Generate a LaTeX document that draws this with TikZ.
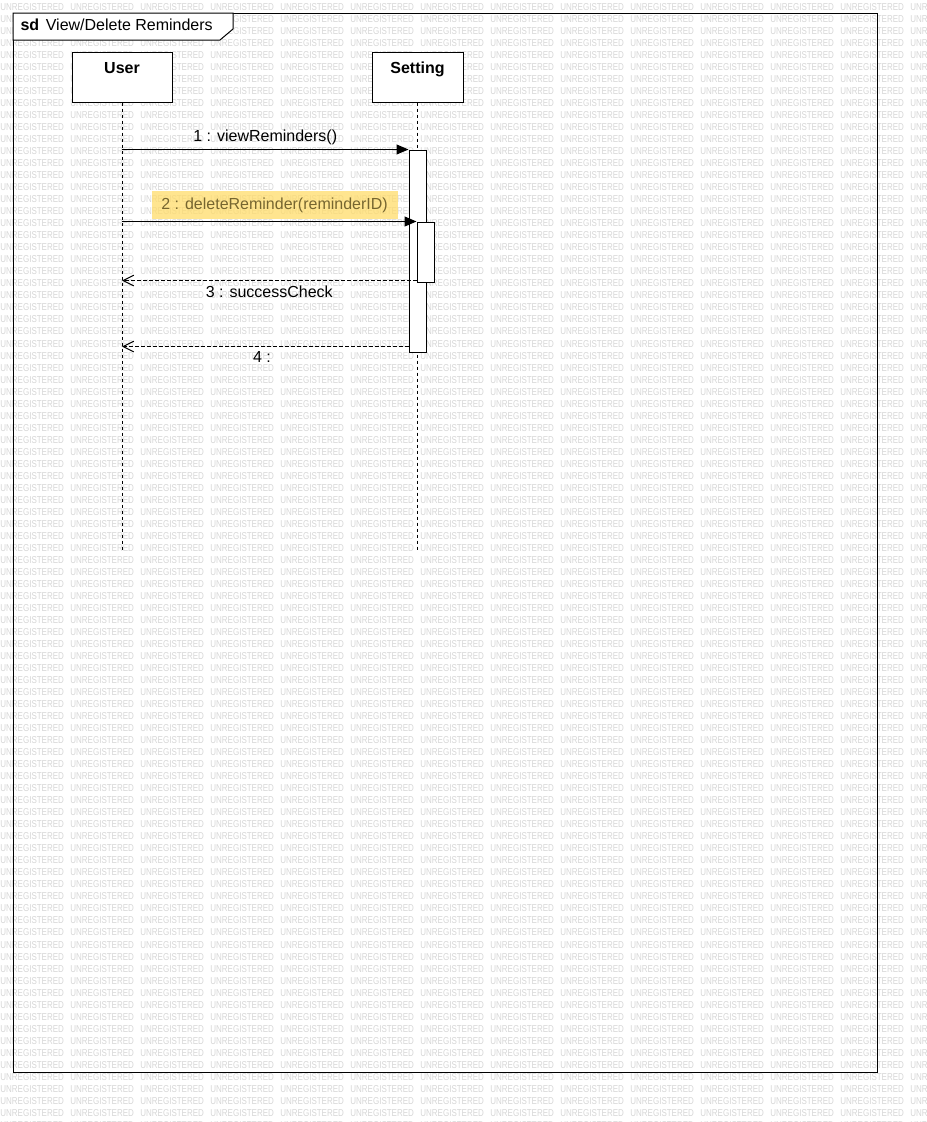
\documentclass[tikz,border=0pt]{standalone}
\usepackage{fontspec}
\setmainfont{Liberation Sans}
\usepackage{tikz}
\usetikzlibrary{arrows.meta,calc}
\definecolor{Watermark}{RGB}{214,214,214}
\definecolor{NoteFill}{RGB}{255,220,105}
\definecolor{NoteText}{RGB}{118,102,48}
\tikzstyle{Call}=[-{Triangle[length=9pt,width=7.5pt]}]
\tikzstyle{Reply}=[dash pattern=on 2.5pt off 2pt,-{Straight Barb[length=8pt,width=8pt]}]
\tikzstyle{Lifeline}=[dash pattern=on 2.25pt off 2.25pt]
\tikzstyle{Actor}=[draw,fill=white,inner sep=0pt,minimum height=37.5pt]
\tikzstyle{ActorName}=[anchor=north,font=\fontsize{12}{14}\selectfont\bfseries,inner sep=0pt,yshift=-7.5pt]
\tikzstyle{Activation}=[draw,fill=white,inner sep=0pt,minimum width=12.75pt]
\tikzstyle{Stamp}=[anchor=west,inner sep=0pt,text=Watermark,font=\fontsize{7.5}{8}\selectfont,xscale=0.8]

\begin{document}
\begin{tikzpicture}[x=0.75pt,y=-0.75pt,line width=0.75pt,font=\fontsize{12}{14}\selectfont]

\useasboundingbox (0,0) rectangle (927,1122);

% watermark
\foreach \r in {0,...,93}
  \foreach \c in {0,...,13}
    \node[Stamp] (wm-\r-\c) at (70*\c, 7+12.02*\r) {UNREGISTERED};

% frame
\draw (13,13) rectangle (877,1072);
\draw[fill=white] (13,13) -- (233,13) -- (233,29) -- (220,40) -- (13,40) -- cycle;
\node[anchor=west,inner sep=0pt] (title) at (20,25) {\textbf{sd}\hspace{5pt}View/Delete Reminders};

% lifelines
\node[Actor,minimum width=75pt,label={[ActorName]north:User}] (user) at (122,77) {};
\node[Actor,minimum width=68.25pt,label={[ActorName]north:Setting}] (setting) at (417.5,77) {};
\coordinate (bottom) at (0,550);
\draw[Lifeline] (user.south) -- (user.south |- bottom);
\draw[Lifeline] (setting.south) -- (setting.south |- bottom);

\node[Activation,minimum height=151.5pt] (act1) at (417.5,251) {};
\node[Activation,minimum height=45pt] (act2) at (425.5,252) {};

% messages
\draw[Call] (user.south |- act1.north west) -- (act1.north west) node[midway,above] (m1) {1 : viewReminders()};
\draw[Call] (user.south |- act2.north west) -- (act2.north west)
  node[midway,above=1.5pt,xshift=4pt,fill=NoteFill,fill opacity=0.75,text opacity=1,text=NoteText,
       minimum height=21pt,minimum width=184.5pt,inner xsep=4pt] (m2) {2 : deleteReminder(reminderID)\hspace{6pt}};
\coordinate (r3) at ($(act2.south west)+(0,-2)$);
\draw[Reply] (r3) -- (user.south |- r3) node[midway,below] (m3) {3 : successCheck};
\coordinate (r4) at ($(act1.south west)+(0,-6)$);
\draw[Reply] (r4) -- (user.south |- r4) node[midway,below,xshift=-2.5pt] (m4) {4 :};

\end{tikzpicture}
\end{document}
